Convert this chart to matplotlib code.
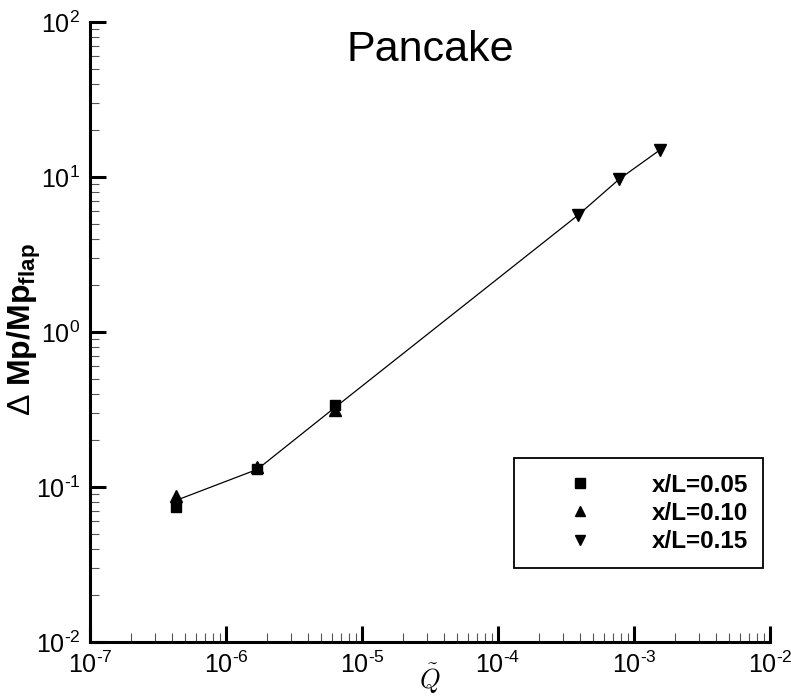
import matplotlib
matplotlib.use("Agg")
import matplotlib.pyplot as plt
import numpy as np
from matplotlib.ticker import LogLocator, FuncFormatter, NullFormatter

plt.rcParams['font.family'] = ['Liberation Sans', 'DejaVu Sans']
plt.rcParams['mathtext.fontset'] = 'custom'
plt.rcParams['mathtext.rm'] = 'Liberation Sans'
plt.rcParams['mathtext.bf'] = 'Liberation Sans:bold'
plt.rcParams['mathtext.it'] = 'Liberation Sans:italic'
plt.rcParams['mathtext.sf'] = 'Liberation Sans'
plt.rcParams['axes.unicode_minus'] = False

# Data
q_005 = [4.3e-7, 1.7e-6, 6.3e-6]
mp_005 = [0.074, 0.13, 0.338]
q_010 = [4.3e-7, 1.7e-6, 6.3e-6]
mp_010 = [0.0875, 0.135, 0.314]
q_015 = [3.9e-4, 7.8e-4, 1.56e-3]
mp_015 = [5.7, 9.7, 15.0]
q_line = [4.3e-7, 1.7e-6, 6.3e-6, 3.9e-4, 7.8e-4, 1.56e-3]
mp_line = [0.082, 0.13, 0.325, 5.7, 9.7, 15.0]
labels = ['x/L=0.05', 'x/L=0.10', 'x/L=0.15']


def pow_fmt(v, pos):
    n = int(round(np.log10(v)))
    if n < 0:
        return r'$\mathregular{10^{\text{-}%d}}$' % (-n)
    return r'$\mathregular{10^{%d}}$' % n


fig = plt.figure(figsize=(7.91, 6.98), dpi=100)
ax = fig.add_axes([90/791, 56/698, 680/791, 620/698])

ax.plot(q_line, mp_line, color='black', lw=0.9, zorder=2)
h1, = ax.plot(q_005, mp_005, ls='none', marker='s', ms=7.5, color='black', zorder=3)
h2, = ax.plot(q_010, mp_010, ls='none', marker='^', ms=8, color='black', zorder=3)
h3, = ax.plot(q_015, mp_015, ls='none', marker='v', ms=8, color='black', zorder=3)

ax.set_xscale('log')
ax.set_yscale('log')
ax.set_xlim(1e-7, 1e-2)
ax.set_ylim(1e-2, 1e2)

for s in ['top', 'right']:
    ax.spines[s].set_visible(False)
for s in ['left', 'bottom']:
    ax.spines[s].set_linewidth(2.2)

for axis in (ax.xaxis, ax.yaxis):
    axis.set_major_locator(LogLocator(base=10, numticks=20))
    axis.set_minor_locator(LogLocator(base=10, subs=range(2, 10), numticks=100))
    axis.set_major_formatter(FuncFormatter(pow_fmt))
    axis.set_minor_formatter(NullFormatter())

ax.tick_params(which='major', direction='in', length=11.5, width=2.2, labelsize=18, pad=7)
ax.tick_params(which='minor', direction='in', length=6.5, width=0.8, color='#555555')

ax.text(0.5, 0.955, 'Pancake', transform=ax.transAxes, ha='center', va='center', fontsize=31)

ax.set_ylabel(r'$\Delta$ Mp/Mp$_{\mathbf{flap}}$', fontsize=23, fontweight='bold')
ax.yaxis.set_label_coords(-0.096, 0.503)
ax.yaxis.label.set_va('center')
ax.set_xlabel(r'$\tilde{Q}$', fontsize=19, math_fontfamily='cm')
ax.xaxis.set_label_coords(0.5, -0.060)
ax.xaxis.label.set_va('center')

leg = ax.legend([h1, h2, h3], labels, loc='upper left', bbox_to_anchor=(0.6235, 0.296),
                prop={'weight': 'bold', 'size': 17.5}, frameon=True, fancybox=False,
                framealpha=1, edgecolor='black', borderpad=0.62, handlelength=4.2,
                handletextpad=0.86, labelspacing=0.22, markerscale=0.9, borderaxespad=0)
leg.get_frame().set_linewidth(1.3)

fig.savefig('out.png', dpi=100)
